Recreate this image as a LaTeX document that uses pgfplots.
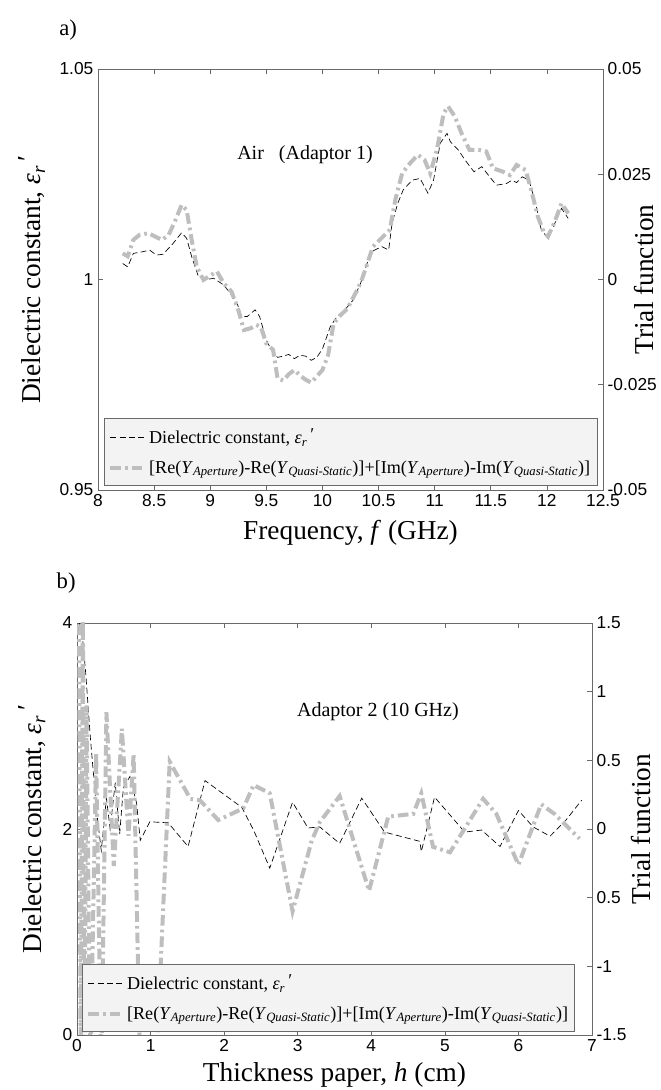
\documentclass[border=0pt]{standalone}
\usepackage{pgfplots}
\pgfplotsset{compat=1.18}
\usepackage{fontspec}
\setmainfont{Liberation Serif}
\setsansfont{Liberation Sans}

\definecolor{axgray}{RGB}{105,105,105}
\definecolor{curvegray}{RGB}{190,190,190}
\definecolor{legfill}{RGB}{243,243,243}

\newcommand{\epsr}{\textit{ε}\textsubscript{\textit{r}}\raisebox{0.35ex}{\,′}}
\newcommand{\trial}{[Re(\textit{Y}\textsubscript{\textit{Aperture}})-Re(\textit{Y}\textsubscript{\textit{Quasi-Static}})]+[Im(\textit{Y}\textsubscript{\textit{Aperture}})-Im(\textit{Y}\textsubscript{\textit{Quasi-Static}})]}

\tikzset{
  blkdash/.style={black, line width=0.5pt, dash pattern=on 4.5pt off 2.5pt},
  grayline/.style={curvegray, line width=3pt, dash pattern=on 8pt off 3pt on 2pt off 3pt},
}
\pgfplotsset{
  common/.style={
    scale only axis,
    axis line style={axgray},
    tick style={axgray, line width=0.5pt},
    major tick length=3.5pt,
    tick align=inside,
    scaled ticks=false,
    tick label style={font=\sffamily\fontsize{13}{15}\selectfont},
    label style={font=\fontsize{20.5}{24}\selectfont},
    /pgf/number format/assume math mode=true,
  },
  leg/.style={
    legend style={fill=legfill, draw=axgray, font=\fontsize{13.6}{16}\selectfont,
      row sep=7pt, inner xsep=3pt, inner ysep=6pt},
    legend cell align=left,
    legend image code/.code={\draw[##1] (0cm,0cm) -- (0.9cm,0cm);},
  },
}

\begin{document}
\begin{tikzpicture}
\useasboundingbox (0,0) rectangle (495.75pt,817.5pt);

\node[anchor=west, font=\fontsize{17}{20}\selectfont] at (41pt,795pt) {a)};
\node[anchor=west, font=\fontsize{17}{20}\selectfont] at (39pt,380pt) {b)};

% ---------- panel a ----------
\begin{axis}[common,
  at={(73.5pt,450pt)}, anchor=south west,
  width=378.75pt, height=315.75pt,
  xmin=8, xmax=12.5, ymin=0.95, ymax=1.05,
  xtick={8,8.5,9,9.5,10,10.5,11,11.5,12,12.5},
  xticklabels={8,8.5,9,9.5,10,10.5,11,11.5,12,12.5},
  ytick={0.95,1,1.05}, yticklabels={0.95,1,1.05},
  xtick pos=both, xticklabel pos=lower,
  ytick pos=left, yticklabel pos=left,
  xlabel={Frequency, \textit{f} (GHz)},
  xlabel style={at={(axis description cs:0.5,-0.102)}, anchor=center},
  ylabel={Dielectric constant, \epsr},
  ylabel style={at={(axis description cs:-0.131,0.5)}, anchor=center},
]
\addplot[blkdash] coordinates {
(8.22,1.0038) (8.265,1.0030) (8.315,1.0062) (8.40,1.0066) (8.46,1.0070)
(8.52,1.0058) (8.58,1.0060) (8.67,1.0086) (8.745,1.0111) (8.79,1.0098)
(8.835,1.0054) (8.895,1.0007) (8.955,0.9999) (9.03,1.0003) (9.12,0.9987)
(9.18,0.9967) (9.24,0.9943) (9.28,0.9912) (9.33,0.9912) (9.40,0.9928)
(9.44,0.9912) (9.50,0.9856) (9.55,0.9830) (9.60,0.9815) (9.65,0.9818)
(9.70,0.9822) (9.75,0.9812) (9.80,0.9820) (9.85,0.9818) (9.90,0.9808)
(9.95,0.9815) (10.00,0.9835) (10.07,0.9888) (10.13,0.9912) (10.20,0.9928)
(10.27,0.9950) (10.34,0.9991) (10.40,1.0040) (10.45,1.0068) (10.53,1.0078)
(10.59,1.0070) (10.62,1.0133) (10.67,1.0180) (10.72,1.0213) (10.80,1.0236)
(10.87,1.0240) (10.94,1.0205) (10.99,1.0236) (11.05,1.0324) (11.11,1.0347)
(11.14,1.0327) (11.21,1.0308) (11.27,1.0284) (11.35,1.0256) (11.42,1.0268)
(11.49,1.0244) (11.55,1.0224) (11.64,1.0228) (11.69,1.0236) (11.73,1.0230)
(11.78,1.0244) (11.84,1.0236) (11.90,1.0181) (11.95,1.0118) (12.01,1.0098)
(12.07,1.0133) (12.13,1.0169) (12.19,1.0145)
};
\node[font=\fontsize{15}{18}\selectfont] at (axis cs:9.845,1.0296) {Air\ \ \ (Adaptor 1)};
\end{axis}

\begin{axis}[common, leg,
  at={(73.5pt,450pt)}, anchor=south west,
  width=378.75pt, height=315.75pt,
  xmin=8, xmax=12.5, ymin=-0.05, ymax=0.05,
  axis x line=none, axis y line*=right,
  y axis line style={-},
  ytick={-0.05,-0.025,0,0.025,0.05},
  yticklabels={-0.05,-0.025,0,0.025,0.05},
  ylabel={Trial function},
  ylabel style={at={(axis description cs:1.082,0.5)}, anchor=center},
  legend style={at={(0.012,0.0095)}, anchor=south west},
]
\addlegendimage{blkdash}
\addlegendentry{Dielectric constant, \epsr}
\addplot[grayline] coordinates {
(8.22,0.0062) (8.265,0.0055) (8.315,0.0094) (8.37,0.0106) (8.45,0.0110)
(8.51,0.0102) (8.57,0.0094) (8.63,0.0106) (8.69,0.0141) (8.745,0.0177)
(8.79,0.0165) (8.835,0.0094) (8.88,0.0030) (8.94,-0.0001) (9.01,0.0011)
(9.06,0.0019) (9.12,-0.0009) (9.19,-0.0029) (9.25,-0.0072) (9.30,-0.0120)
(9.36,-0.0116) (9.41,-0.0108) (9.45,-0.0112) (9.50,-0.0152) (9.56,-0.0167)
(9.60,-0.0235) (9.65,-0.0240) (9.70,-0.0225) (9.75,-0.0215) (9.80,-0.0228)
(9.85,-0.0238) (9.90,-0.0245) (9.95,-0.0230) (10.00,-0.0215) (10.05,-0.0180)
(10.10,-0.0104) (10.16,-0.0085) (10.22,-0.0070) (10.27,-0.0045) (10.31,-0.0025)
(10.35,-0.0001) (10.39,0.0030) (10.45,0.0078) (10.54,0.0102) (10.60,0.0118)
(10.65,0.0190) (10.71,0.0252) (10.78,0.0276) (10.85,0.0296) (10.91,0.0284)
(10.96,0.0252) (11.02,0.0308) (11.08,0.0395) (11.12,0.0411) (11.18,0.0387)
(11.24,0.0347) (11.31,0.0308) (11.39,0.0308) (11.46,0.0304) (11.52,0.0264)
(11.61,0.0256) (11.67,0.0248) (11.73,0.0272) (11.81,0.0260) (11.86,0.0213)
(11.92,0.0149) (11.97,0.0114) (12.01,0.0102) (12.07,0.0137) (12.13,0.0181)
(12.19,0.0157)
};
\addlegendentry{\trial}
\end{axis}

% ---------- panel b ----------
\begin{axis}[common,
  at={(57.75pt,41.25pt)}, anchor=south west,
  width=386.25pt, height=309pt,
  xmin=0, xmax=7, ymin=0, ymax=4,
  xtick={0,1,2,3,4,5,6,7},
  xticklabels={0,1,2,3,4,5,6,7},
  ytick={0,2,4}, yticklabels={0,2,4},
  xtick pos=both, xticklabel pos=lower,
  ytick pos=left, yticklabel pos=left,
  xlabel={Thickness paper, \textit{h} (cm)},
  xlabel style={at={(axis description cs:0.5,-0.097)}, anchor=center},
  ylabel={Dielectric constant, \epsr},
  ylabel style={at={(axis description cs:-0.087,0.5)}, anchor=center},
]
\addplot[blkdash] coordinates {
(0.03,4.0) (0.07,3.9) (0.12,3.5) (0.18,2.9) (0.27,2.15) (0.33,1.79)
(0.40,2.30) (0.45,2.00) (0.52,2.45) (0.58,1.95) (0.63,2.40) (0.72,2.51)
(0.81,2.25) (0.86,1.89) (0.99,2.07) (1.24,2.06) (1.51,1.83) (1.74,2.47)
(2.24,2.21) (2.40,1.99) (2.62,1.62) (2.93,2.26) (3.14,2.01) (3.30,2.02)
(3.57,1.86) (3.87,2.30) (4.18,1.97) (4.66,1.88) (4.68,1.78) (4.86,2.31)
(5.27,1.97) (5.50,1.99) (5.75,1.83) (6.00,2.18) (6.20,2.02) (6.43,1.93)
(6.65,2.09) (6.86,2.28)
};
\node[font=\fontsize{15}{18}\selectfont] at (axis cs:4.09,3.14) {Adaptor 2 (10 GHz)};
\end{axis}

\begin{axis}[common, leg,
  at={(57.75pt,41.25pt)}, anchor=south west,
  width=386.25pt, height=309pt,
  xmin=0, xmax=7, ymin=-1.5, ymax=1.5,
  axis x line=none, axis y line*=right,
  y axis line style={-},
  ytick={-1.5,-1,-0.5,0,0.5,1,1.5},
  yticklabels={-1.5,-1,0.5,0,0.5,1,1.5},
  ylabel={Trial function},
  ylabel style={at={(axis description cs:1.095,0.5)}, anchor=center},
  legend style={at={(0.0097,0.0073)}, anchor=south west},
]
\addlegendimage{blkdash}
\addlegendentry{Dielectric constant, \epsr}
\addplot[grayline] coordinates {
(0.01,1.8) (0.03,1.3) (0.05,-1.8) (0.08,1.6) (0.10,-1.8) (0.13,0.9)
(0.18,-1.8) (0.26,0.55) (0.33,-1.8) (0.40,0.85) (0.50,-0.27) (0.61,0.73)
(0.70,-0.05) (0.77,0.55) (0.86,-1.8) (0.96,-2.2) (1.07,-1.8) (1.26,0.49)
(1.54,0.22) (1.67,0.21) (1.92,0.065) (2.26,0.15) (2.40,0.32) (2.62,0.26)
(2.93,-0.60) (3.19,-0.085) (3.30,0.05) (3.57,0.24) (3.97,-0.45) (4.23,0.09)
(4.57,0.11) (4.68,0.26) (4.84,-0.13) (5.07,-0.17) (5.52,0.22) (5.70,0.11)
(6.00,-0.26) (6.31,0.18) (6.49,0.11) (6.83,-0.07)
};
\addlegendentry{\trial}
\end{axis}
\end{tikzpicture}
\end{document}
